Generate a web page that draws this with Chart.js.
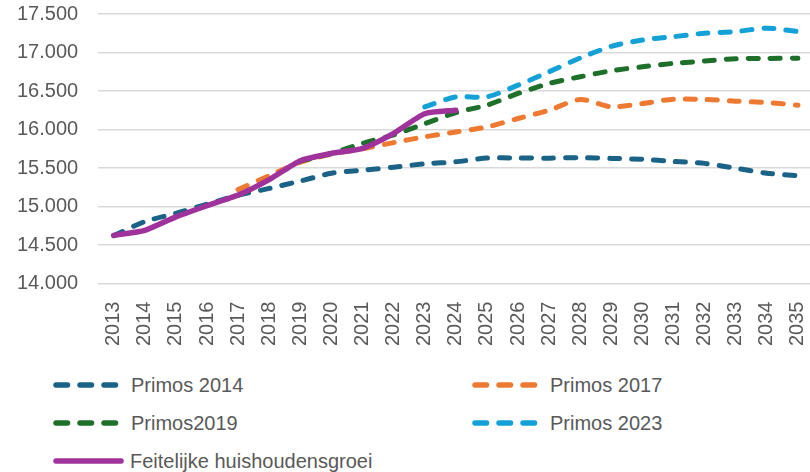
<!DOCTYPE html>
<html>
<head>
<meta charset="utf-8">
<script src="https://cdn.jsdelivr.net/npm/chart.js@4/dist/chart.umd.min.js"></script>
<style>
  html, body { margin: 0; padding: 0; background: #fff; overflow: hidden; width: 810px; height: 472px; }
  body { position: relative; }
  #wrap { position: absolute; left: -3px; top: -18px; width: 843px; height: 388px; }
  .leg { position: absolute; font-family: "Liberation Sans", Arial, sans-serif; font-size: 20px; color: #595959; white-space: nowrap; line-height: 20px; }
  .leg svg { position: absolute; left: 0; top: 0; }
</style>
</head>
<body>
<div id="wrap"><canvas id="c" width="843" height="388"></canvas></div>
<div id="legend"></div>
<script>
const years = ["2013","2014","2015","2016","2017","2018","2019","2020","2021","2022","2023","2024","2025","2026","2027","2028","2029","2030","2031","2032","2033","2034","2035"];
const primos2014 = [14620, 14805, 14910, 15030, 15145, 15235, 15330, 15432, 15472, 15510, 15555, 15580, 15630, 15630, 15628, 15635, 15625, 15613, 15585, 15560, 15497, 15432, 15400];
const primos2017 = [null, null, null, null, 15220, 15400, 15575, 15680, 15750, 15830, 15905, 15968, 16033, 16143, 16250, 16390, 16294, 16337, 16394, 16390, 16368, 16350, 16316];
const primos2019 = [null, null, null, null, null, null, 15590, 15690, 15820, 15930, 16075, 16220, 16316, 16468, 16598, 16685, 16763, 16815, 16859, 16889, 16919, 16923, 16925];
const primos2023 = [null, null, null, null, null, null, null, null, null, null, 16294, 16424, 16424, 16576, 16750, 16930, 17080, 17162, 17206, 17250, 17272, 17316, 17272];
const feitelijk = [14625, 14690, 14865, 15010, 15150, 15350, 15595, 15690, 15755, 15950, 16205, 16250, null, null, null, null, null, null, null, null, null, null, null];

const seriesNames = ["Primos 2014", "Primos 2017", "Primos2019", "Primos 2023", "Feitelijke huishoudensgroei"];
const seriesColors = ["#1B6287", "#EE7A31", "#1E6F2A", "#13A1D8", "#A0329C"];

function fmt(v) {
  const s = String(Math.round(v));
  return s.replace(/\B(?=(\d{3})+(?!\d))/g, ".");
}

function dashed(label, data, color, order) {
  return {
    label, data, borderColor: color, backgroundColor: color,
    borderWidth: 5, borderDash: [10, 12], borderCapStyle: 'round', borderJoinStyle: 'round',
    pointRadius: 0, pointHoverRadius: 0, tension: 0.25, spanGaps: false, fill: false, order
  };
}

const ds = [
  dashed(seriesNames[0], primos2014, seriesColors[0], 5),
  dashed(seriesNames[1], primos2017, seriesColors[1], 4),
  dashed(seriesNames[2], primos2019, seriesColors[2], 3),
  dashed(seriesNames[3], primos2023, seriesColors[3], 2),
  {
    label: seriesNames[4], data: feitelijk, borderColor: seriesColors[4], backgroundColor: seriesColors[4],
    borderWidth: 5.5, borderCapStyle: 'round', borderJoinStyle: 'round',
    pointRadius: 0, pointHoverRadius: 0, tension: 0.2, fill: false, order: 1
  }
];

Chart.defaults.font.family = '"Liberation Sans", Arial, sans-serif';
Chart.defaults.color = '#595959';

new Chart(document.getElementById('c'), {
  type: 'line',
  data: { labels: years, datasets: ds },
  options: {
    responsive: false,
    animation: false,
    layout: { padding: { left: 0, right: 4, top: 0, bottom: 6 } },
    plugins: { legend: { display: false }, tooltip: { enabled: false } },
    scales: {
      x: {
        offset: true,
        grid: { display: false, drawTicks: false },
        border: { display: false },
        ticks: { font: { size: 20 }, color: '#595959', minRotation: 90, maxRotation: 90, padding: 18, autoSkip: false }
      },
      y: {
        min: 14000, max: 17500,
        grid: { color: '#d9d9d9', lineWidth: 1.5, drawTicks: false },
        border: { display: false },
        ticks: { stepSize: 500, font: { size: 20 }, color: '#595959', padding: 20, callback: v => fmt(v) }
      }
    }
  }
});

// HTML legend
const legendItems = [
  { i: 0, x: 53, y: 385 },
  { i: 1, x: 472, y: 385 },
  { i: 2, x: 53, y: 423 },
  { i: 3, x: 472, y: 423 },
  { i: 4, x: 53, y: 461 }
];
const lg = document.getElementById('legend');
legendItems.forEach(it => {
  const d = document.createElement('div');
  d.className = 'leg';
  d.style.left = it.x + 'px';
  d.style.top = (it.y - 10) + 'px';
  const col = seriesColors[it.i];
  const solid = it.i === 4;
  const svgW = solid ? 72 : 68;
  const line = solid
    ? `<line x1="3" y1="10" x2="68" y2="10" stroke="${col}" stroke-width="5.5" stroke-linecap="round"/>`
    : `<line x1="3" y1="10" x2="65" y2="10" stroke="${col}" stroke-width="5.5" stroke-linecap="round" stroke-dasharray="11.5 12.5"/>`;
  d.innerHTML = `<svg width="${svgW}" height="20">${line}</svg><span style="position:absolute;left:${solid ? 77 : 78}px;top:0">${seriesNames[it.i]}</span>`;
  lg.appendChild(d);
});
</script>
</body>
</html>
